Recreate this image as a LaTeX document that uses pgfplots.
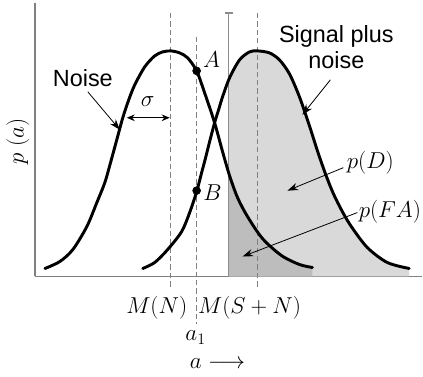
\documentclass[border=0pt]{standalone}
\usepackage{fontspec}
\setmainfont{Liberation Sans}
\usepackage{pgfplots}
\pgfplotsset{compat=1.18}
\usepgfplotslibrary{fillbetween}
\usetikzlibrary{arrows.meta}

\pgfplotstableread{
x y
45 8
60 15
73 27
87 50
97 74
105 94
111 115
117 137
123 159
129 177
135 192
145 210
155 221
163 225
171 226
180 224
188 219
197 206
205 184
215 154
223 125
230 101
238 79
248 60
263 38
282 21
300 12
313 9
}\noisetab

\pgfplotstableread{
x y
143 8
155 14
168 27
182 45
190 64
197 85
202 104
206 119
210 135
215 154
219 167
223 180
230 199
240 217
250 225
258 226
270 224
280 217
290 203
300 180
310 151
318 126
326 103
334 83
343 65
352 50
368 29
388 14
410 8
}\signaltab

\begin{document}
\begin{tikzpicture}
\begin{axis}[
  x=0.75pt, y=0.75pt,
  xmin=35, xmax=423, ymin=0, ymax=274,
  axis x line*=bottom, axis y line*=left,
  axis line style={black!50, line width=1.2pt},
  xtick=\empty, ytick=\empty,
  clip=false,
]
\path (axis cs:0,-100) rectangle (axis cs:423,277);

\addplot[name path=base, draw=none, forget plot] coordinates {(35,0) (423,0)};
\addplot[name path=sig, draw=none, smooth, forget plot] table[x=x,y=y] {\signaltab};
\addplot[name path=noi, draw=none, smooth, forget plot] table[x=x,y=y] {\noisetab};

\addplot[fill=black!15, draw=none] fill between[of=sig and base, soft clip={domain=229:410}];
\addplot[fill=black!26, draw=none] fill between[of=noi and base, soft clip={domain=229:313}];

% reference lines
\addplot[black!50, line width=0.8pt, dash pattern=on 4pt off 2.3pt] coordinates {(171,264) (171,-11)};
\addplot[black!50, line width=0.8pt, dash pattern=on 4pt off 2.3pt] coordinates {(197,240) (197,-48)};
\addplot[black!50, line width=0.8pt, dash pattern=on 4pt off 2.3pt] coordinates {(258,264) (258,-11)};
\addplot[black!45, line width=1pt] coordinates {(229,0) (229,264)};
\addplot[black!45, line width=1pt] coordinates {(225,264) (233,264)};

% curves
\addplot[black, line width=2.2pt, smooth, line cap=round] table[x=x,y=y] {\noisetab};
\addplot[black, line width=2.2pt, smooth, line cap=round] table[x=x,y=y] {\signaltab};

% points A and B
\addplot[only marks, mark=*, mark size=3pt, black] coordinates {(197,206) (197,86)};

% annotations
\tikzset{lbl/.style={font=\fontsize{17.6}{20}\selectfont, inner sep=0pt},
         mth/.style={font=\fontsize{17}{20}\selectfont, inner sep=0pt},
         arr/.style={-{Stealth[length=8pt,width=5.5pt]}, line width=0.6pt, black}}
\node[lbl] at (axis cs:83,199) {Noise};
\draw[arr] (axis cs:88,185) -- (axis cs:120,147);
\node[mth] at (axis cs:148,175) {$\sigma$};
\draw[{Stealth[length=6pt,width=5pt]}-{Stealth[length=6pt,width=5pt]}, line width=0.6pt] (axis cs:127,159) -- (axis cs:170,159);
\node[lbl, anchor=base] at (axis cs:337,234) {Signal plus};
\node[lbl, anchor=base] at (axis cs:337,208) {noise};
\draw[arr] (axis cs:331,197) -- (axis cs:303,162);
\node[mth] at (axis cs:371,114) {$p(D)$};
\draw[arr] (axis cs:344,109) -- (axis cs:288,86);
\node[mth, anchor=east] at (axis cs:422,65) {$p(FA)$};
\draw[arr] (axis cs:358,64) -- (axis cs:243,20);
\node[mth] at (axis cs:212,217) {$A$};
\node[mth] at (axis cs:213,84) {$B$};
\node[mth] at (axis cs:157,-31) {$M(N)$};
\node[mth] at (axis cs:250,-31) {$M(S+N)$};
\node[mth] at (axis cs:196,-61) {$a_1$};
\node[mth] at (axis cs:218,-87) {$a \longrightarrow$};
\node[mth, rotate=90] at (axis cs:18,135) {$p\;(a)$};
\end{axis}
\end{tikzpicture}
\end{document}
